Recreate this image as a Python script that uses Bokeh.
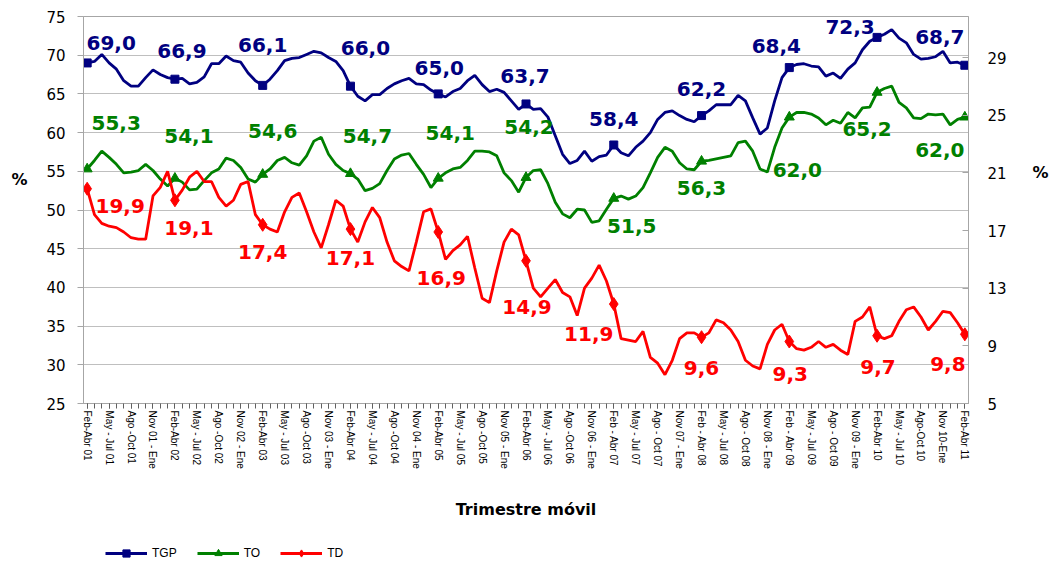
import numpy as np
from bokeh.plotting import figure
from bokeh.layouts import column
from bokeh.models import (Range1d, LinearAxis, FixedTicker, ColumnDataSource,
                          Legend, LegendItem)
from bokeh.core.properties import value
from bokeh.embed import file_html
from bokeh.resources import INLINE

# ---------------- data ----------------
period_labels = [
    "Feb-Abr 01", "May - Jul 01", "Ago -Oct 01", "Nov 01 - Ene",
    "Feb-Abr 02", "May - Jul 02", "Ago -Oct 02", "Nov 02 - Ene",
    "Feb-Abr 03", "May - Jul 03", "Ago -Oct 03", "Nov 03 - Ene",
    "Feb-Abr 04", "May - Jul 04", "Ago -Oct 04", "Nov 04 - Ene",
    "Feb-Abr 05", "May - Jul 05", "Ago -Oct 05", "Nov 05 - Ene",
    "Feb-Abr 06", "May - Jul 06", "Ago -Oct 06", "Nov 06 - Ene",
    "Feb - Abr 07", "May - Jul 07", "Ago - Oct 07", "Nov 07 - Ene",
    "Feb - Abr 08", "May - Jul 08", "Ago - Oct 08", "Nov 08 - Ene",
    "Feb - Abr 09", "May - Jul 09", "Ago - Oct 09", "Nov 09 - Ene",
    "Feb-Abr 10", "May - Jul 10", "Ago-Oct 10", "Nov 10-Ene",
    "Feb-Abr 11",
]

tgp = [
    69.0, 69.2, 70.1, 69.0, 68.2, 66.7, 66.0, 66.0, 67.1, 68.1, 67.5, 67.1,
    66.9, 67.0, 66.3, 66.5, 67.2, 68.9, 68.9, 69.9, 69.3, 69.1, 67.7, 66.7,
    66.1, 66.9, 68.0, 69.3, 69.6, 69.7, 70.1, 70.5, 70.3, 69.7, 69.2, 68.0,
    66.0, 64.7, 64.1, 64.9, 64.9, 65.7, 66.3, 66.7, 67.0, 66.3, 66.2, 65.5,
    65.0, 64.6, 65.3, 65.7, 66.7, 67.4, 66.2, 65.3, 65.6, 65.2, 64.1, 63.0,
    63.7, 63.0, 63.1, 62.0, 59.6, 57.2, 56.0, 56.4, 57.6, 56.3, 56.9, 57.1,
    58.4, 57.4, 57.0, 58.1, 58.9, 60.0, 61.7, 62.6, 62.8, 62.2, 61.7, 61.4,
    62.2, 62.8, 63.6, 63.6, 63.6, 64.8, 64.1, 61.9, 59.8, 60.6, 64.1, 67.1,
    68.4, 68.8, 68.9, 68.6, 68.5, 67.3, 67.7, 67.0, 68.2, 69.0, 70.7, 71.8,
    72.3, 72.7, 73.3, 72.2, 71.6, 70.1, 69.5, 69.6, 69.8, 70.5, 69.0, 69.1,
    68.7,
]

to = [
    55.3, 56.4, 57.6, 56.8, 55.9, 54.8, 54.9, 55.1, 55.9, 55.1, 54.0, 53.1,
    54.1, 53.6, 52.6, 52.7, 53.8, 54.8, 55.3, 56.7, 56.4, 55.5, 54.0, 53.6,
    54.6, 55.3, 56.4, 56.8, 56.1, 55.8, 57.0, 58.9, 59.4, 57.2, 55.9, 55.1,
    54.7, 54.0, 52.5, 52.8, 53.4, 55.1, 56.6, 57.1, 57.3, 55.9, 54.6, 52.9,
    54.1, 54.8, 55.3, 55.5, 56.4, 57.6, 57.6, 57.5, 57.0, 54.8, 53.8, 52.3,
    54.2, 55.1, 55.2, 53.4, 51.0, 49.5, 49.0, 50.1, 50.0, 48.4, 48.6, 50.1,
    51.5, 51.8, 51.4, 51.8, 52.9, 54.8, 56.8, 58.1, 57.6, 56.1, 55.3, 55.2,
    56.3, 56.4, 56.6, 56.8, 57.0, 58.7, 58.9, 57.6, 55.3, 54.9, 58.1, 60.6,
    62.0, 62.6, 62.6, 62.4, 61.9, 61.0, 61.6, 61.2, 62.6, 61.9, 63.2, 63.3,
    65.2, 65.7, 66.0, 63.9, 63.2, 61.9, 61.8, 62.4, 62.3, 62.4, 61.0, 61.7,
    62.0,
]

td = [
    19.9, 18.1, 17.5, 17.3, 17.2, 16.9, 16.5, 16.4, 16.4, 19.4, 20.0, 21.1,
    19.1, 19.8, 20.7, 21.1, 20.4, 20.4, 19.3, 18.7, 19.1, 20.2, 20.4, 18.1,
    17.4, 17.1, 16.9, 18.3, 19.3, 19.6, 18.3, 16.9, 15.8, 17.4, 19.1, 18.7,
    17.1, 16.2, 17.6, 18.6, 17.9, 16.2, 14.9, 14.5, 14.2, 16.2, 18.3, 18.5,
    16.9, 15.0, 15.6, 16.0, 16.6, 14.4, 12.3, 12.0, 14.2, 16.2, 17.1, 16.7,
    14.9, 13.0, 12.4, 13.0, 13.6, 12.7, 12.4, 11.1, 13.0, 13.7, 14.6, 13.5,
    11.9, 9.5, 9.4, 9.3, 10.0, 8.2, 7.8, 7.0, 8.0, 9.5, 9.9, 9.9,
    9.6, 9.9, 10.8, 10.6, 10.1, 9.3, 8.0, 7.6, 7.4, 9.1, 10.1, 10.5,
    9.3, 8.8, 8.7, 8.9, 9.3, 8.9, 9.1, 8.7, 8.4, 10.7, 11.0, 11.7,
    9.7, 9.5, 9.7, 10.7, 11.5, 11.7, 11.0, 10.1, 10.7, 11.4, 11.3, 10.6,
    9.8,
]

series_names = ["TGP", "TO", "TD"]
left_ticks = list(range(25, 80, 5))
right_ticks = list(range(5, 30, 4))

# annotated months (every Feb-Abr)
marked = list(range(0, 121, 12))

# label offsets in screen pixels (dx, dy; dy>0 = down) -- styling only
tgp_off = [(24, -20), (7, -28), (0, -40), (15, -38), (1, -26), (-1, -28),
           (0, -26), (0, -27), (-13, -22), (-27, -10), (-25, -28)]
to_off = [(29, -46), (14, -42), (10, -43), (17, -38), (12, -45), (3, -50),
          (18, 28), (0, 27), (8, 53), (-10, 37), (-25, 33)]
td_off = [(33, 17), (14, 28), (0, 27), (0, 29), (3, 46), (1, 46),
          (-25, 30), (0, 31), (1, 32), (1, 31), (-17, 30)]

NAVY = "#000080"
GREEN = "#008000"
RED = "#FF0000"
GRID = "#BFBFBF"
AXIS = "#A6A6A6"

x = np.arange(len(tgp))

W = 1052
H1 = 540
H2 = 22
p = figure(width=W, height=H1, output_backend="svg", toolbar_location=None,
           x_range=Range1d(-0.5, len(tgp) - 0.5), y_range=Range1d(25, 75),
           min_border_left=83, min_border_right=W - 968, min_border_top=16,
           min_border_bottom=H1 - 403)
p.extra_y_ranges = {"right": Range1d(5, 31.85)}
p.outline_line_color = AXIS
p.outline_line_width = 1
p.background_fill_color = "white"
p.xgrid.visible = False
p.ygrid.grid_line_color = GRID
p.ygrid.grid_line_width = 1


def style_y(ax, tin, tout, standoff):
    ax.axis_line_color = AXIS
    ax.major_tick_line_color = AXIS
    ax.major_tick_in = tin
    ax.major_tick_out = tout
    ax.minor_tick_line_color = None
    ax.major_label_standoff = standoff
    ax.major_label_text_font = "DejaVu Sans"
    ax.major_label_text_font_size = "15px"
    ax.major_label_text_color = "black"


# left axis
p.yaxis.ticker = FixedTicker(ticks=left_ticks)
style_y(p.yaxis[0], 0, 6, 12)

# right axis
raxis = LinearAxis(y_range_name="right", ticker=FixedTicker(ticks=right_ticks))
style_y(raxis, 6, 0, 19)
p.add_layout(raxis, "right")


# "%" captions as one-tick caption axes outside the numeric axes
def pct_axis(yname, tick, standoff):
    ax = LinearAxis(y_range_name=yname, ticker=FixedTicker(ticks=[tick]),
                    major_label_overrides={tick: "%"})
    ax.axis_line_color = None
    ax.major_tick_line_color = None
    ax.minor_tick_line_color = None
    ax.major_tick_in = 0
    ax.major_tick_out = 0
    ax.major_label_standoff = standoff
    ax.major_label_text_font = "DejaVu Sans"
    ax.major_label_text_font_style = "bold"
    ax.major_label_text_font_size = "16px"
    ax.major_label_text_color = "black"
    return ax


p.add_layout(pct_axis("default", 54, 16), "left")
p.add_layout(pct_axis("right", 21, 23), "right")

# x axis
tick_pos = list(range(0, len(tgp), 3))
p.xaxis.ticker = FixedTicker(ticks=tick_pos, minor_ticks=list(range(len(tgp))))
p.xaxis.major_label_overrides = {t: lab for t, lab in zip(tick_pos, period_labels)}
p.xaxis.major_label_orientation = "vertical"
p.xaxis.axis_line_color = AXIS
p.xaxis.major_tick_line_color = "#606060"
p.xaxis.minor_tick_line_color = "#606060"
p.xaxis.major_tick_out = 5
p.xaxis.major_tick_in = 0
p.xaxis.minor_tick_out = 5
p.xaxis.minor_tick_in = 0
p.xaxis.major_label_standoff = 2
p.xaxis.major_label_text_font = "Liberation Sans"
p.xaxis.major_label_text_font_size = "10px"
p.xaxis.major_label_text_color = "black"
p.xaxis.axis_label = "Trimestre móvil"
p.xaxis.axis_label_text_font = "DejaVu Sans"
p.xaxis.axis_label_text_font_style = "bold"
p.xaxis.axis_label_text_font_size = "16px"
p.xaxis.axis_label_text_color = "black"
p.xaxis.axis_label_standoff = 28


def fmt(v):
    return f"{v:.1f}".replace(".", ",")


def series(vals, color, marker, msize, offs, yname="default"):
    src = ColumnDataSource(dict(x=x, y=vals))
    p.line("x", "y", source=src, line_color=color, line_width=2.8,
           y_range_name=yname)
    msrc = ColumnDataSource(dict(
        x=[x[i] for i in marked], y=[vals[i] for i in marked],
        lab=[fmt(vals[i]) for i in marked],
        dx=[o[0] for o in offs], dy=[o[1] for o in offs]))
    p.scatter("x", "y", source=msrc, marker=marker, size=msize,
              fill_color=color, line_color=color, y_range_name=yname)
    p.text("x", "y", text="lab", source=msrc, x_offset="dx", y_offset="dy",
           text_color=color, text_font=value("DejaVu Sans"),
           text_font_style="bold", text_font_size="20px",
           text_align="center", text_baseline="middle", y_range_name=yname)
    return src, msrc


styles = [(NAVY, "square", 8), (GREEN, "triangle", 10), (RED, "diamond", 13)]
srcs = [series(tgp, *styles[0], tgp_off),
        series(to, *styles[1], to_off),
        series(td, *styles[2], td_off, yname="right")]

# ---- legend strip (separate small figure below the chart) ----
# the same series are re-used as legend handles; they lie outside this
# strip's (0..1) range so only the legend samples are visible
p2 = figure(width=W, height=H2, output_backend="svg", toolbar_location=None,
            x_axis_type=None, y_axis_type=None, min_border=0,
            x_range=Range1d(0, 1), y_range=Range1d(0, 1))
p2.outline_line_color = None
items = []
for name, (col, mk, ms), (src, msrc) in zip(series_names, styles, srcs):
    lr = p2.line("x", "y", source=src, line_color=col, line_width=2.8)
    sr = p2.scatter("x", "y", source=msrc, marker=mk, size=ms,
                    fill_color=col, line_color=col)
    items.append(LegendItem(label=name, renderers=[lr, sr]))
legend = Legend(items=items, location=(22, 0), orientation="horizontal",
                glyph_width=42, glyph_height=18, label_height=18,
                label_width=10, padding=0, margin=0, spacing=20,
                label_standoff=5, border_line_alpha=0,
                background_fill_alpha=0,
                label_text_font="Liberation Sans", label_text_font_size="12px",
                label_text_color="black")
p2.add_layout(legend, "center")

layout = column(p, p2, spacing=0)
open("out.html", "w").write(file_html(layout, INLINE))
